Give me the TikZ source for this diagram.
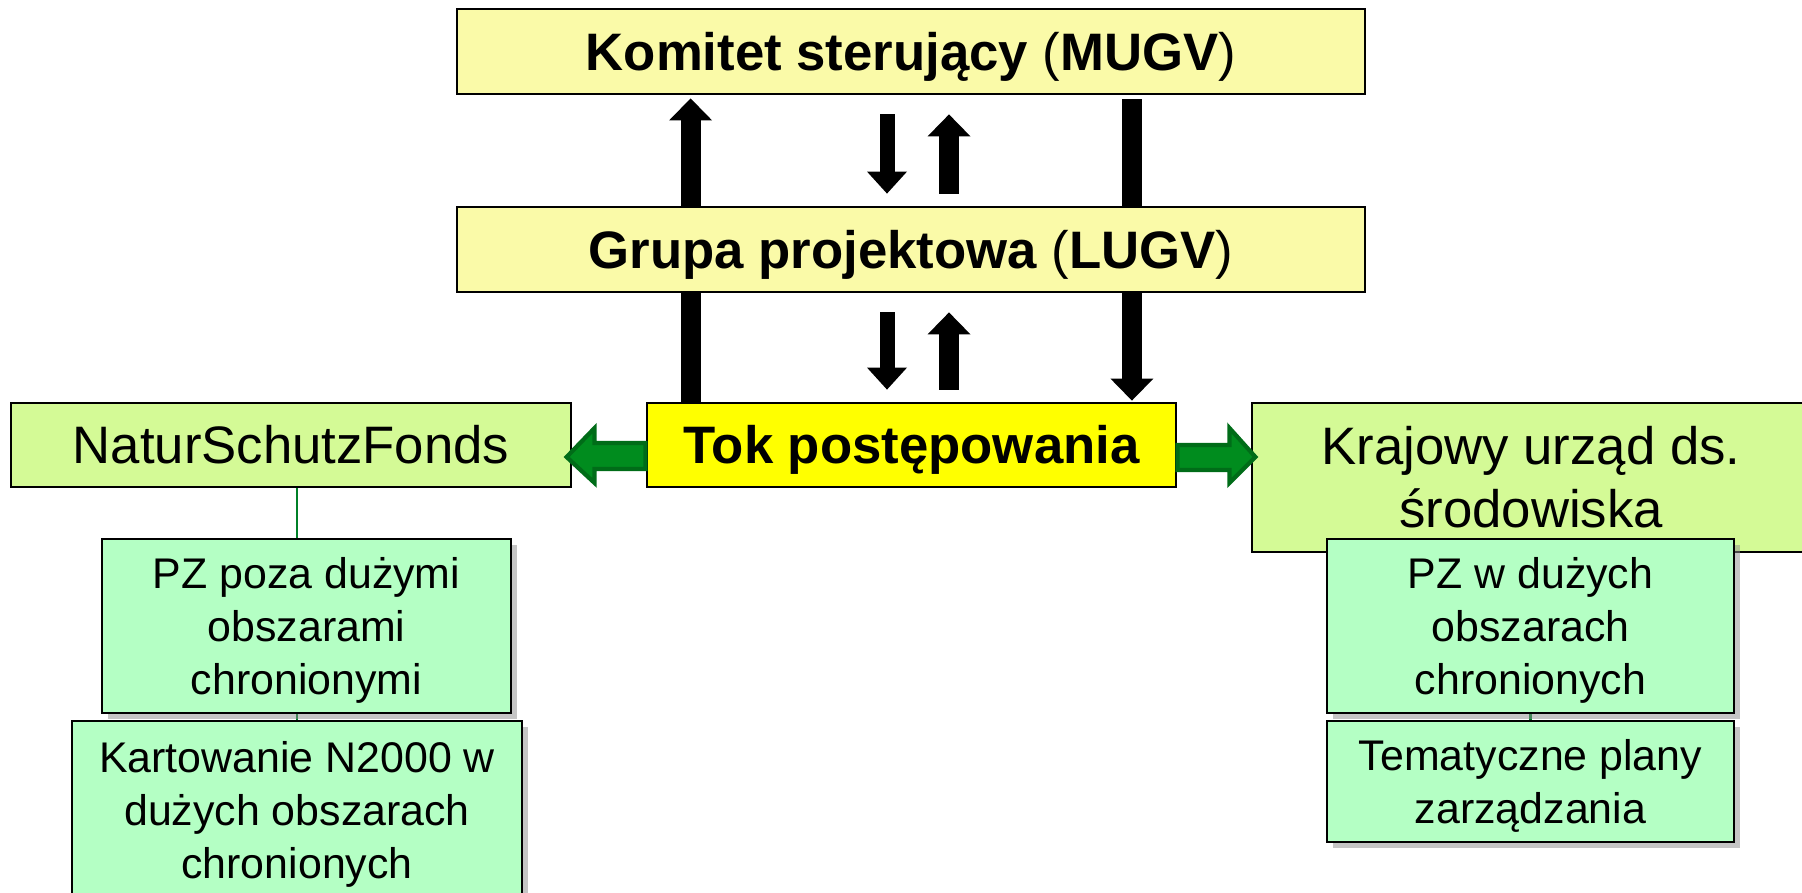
\documentclass[tikz,border=0pt]{standalone}
\usepackage{fontspec}
\setmainfont{Liberation Sans}
\usepackage{tikz}
\usetikzlibrary{calc,positioning,arrows.meta,shadows}

\definecolor{topyellow}{RGB}{250,250,168}
\definecolor{tokyellow}{RGB}{255,255,0}
\definecolor{sidegreen}{RGB}{212,250,150}
\definecolor{subgreen}{RGB}{180,255,196}
\definecolor{arrowgreen}{RGB}{0,140,30}
\definecolor{arrowdark}{RGB}{0,108,24}
\definecolor{linkgreen}{RGB}{0,128,40}

\tikzset{
box/.style={draw=black,line width=0.8pt,inner sep=0pt,align=center,text depth=0pt,text height=10.7pt,font=\fontsize{15}{18}\selectfont},
topbox/.style={box,fill=topyellow,minimum width=9.08cm,minimum height=0.85cm,font=\fontsize{15}{18}\selectfont\bfseries},
sidebox/.style={box,fill=sidegreen},
subbox/.style={box,fill=subgreen,font=\fontsize{12.2}{15}\selectfont,drop shadow={shadow xshift=0.06cm,shadow yshift=-0.06cm,fill=black!45,opacity=0.5}},
bigarrow/.style={line width=0.2cm,-{Triangle[width=0.43cm,length=0.22cm,line width=0pt]}},
downarrow/.style={line width=0.15cm,-{Triangle[width=0.40cm,length=0.22cm,line width=0pt]}},
greenarr/.style={fill=arrowgreen,draw=arrowdark,line width=1.2pt,line join=miter},
link/.style={draw=linkgreen,line width=0.8pt}
}

\begin{document}
\begin{tikzpicture}
\useasboundingbox (0,0) rectangle (18.02,-8.92);

\node[topbox] (komitet) at (9.11,-0.515) {Komitet sterujący {\mdseries(}MUGV{\mdseries)}};
\node[box,fill=tokyellow,minimum width=5.29cm,minimum height=0.84cm,font=\fontsize{15}{18}\selectfont\bfseries] (tok) at (9.115,-4.45) {Tok postępowania};

\draw[bigarrow] ($(tok.north west)+(0.45,0)$) -- ($(tok.north west |- komitet.south)+(0.45,-0.03)$);
\draw[bigarrow] ($(tok.north east |- komitet.south)+(-0.455,-0.04)$) -- ($(tok.north east)+(-0.455,0.01)$);

\node[topbox] (grupa) at (9.11,-2.495) {Grupa projektowa {\mdseries(}LUGV{\mdseries)}};

\foreach \a/\b in {komitet/grupa,grupa/tok}{
\draw[downarrow] ($(\a.south)+(-0.24,-0.19)$) -- ($(\a.south |- \b.north)+(-0.24,0.12)$);
\draw[bigarrow] ($(\a.south |- \b.north)+(0.38,0.12)$) -- ($(\a.south)+(0.38,-0.19)$);
}

\node[sidebox,minimum width=5.60cm,minimum height=0.84cm] (natur) at (2.91,-4.45) {NaturSchutzFonds};
\node[sidebox,minimum width=5.58cm,minimum height=1.49cm,text height=28.7pt] (krajowy) at (15.31,-4.775) {Krajowy urząd ds.\\środowiska};

\draw[greenarr] (tok.west) ++(0,0.02) -- ++(-0.51,0) -- ++(0,0.15) -- ++(-0.28,-0.29) -- ++(0.28,-0.26) -- ++(0,0.14) -- ++(0.51,0) -- cycle;
\draw[greenarr] (tok.east) -- ++(0.52,0) -- ++(0,0.17) -- ++(0.26,-0.29) -- ++(-0.26,-0.26) -- ++(0,0.13) -- ++(-0.52,0) -- cycle;

\node[subbox,minimum width=4.50cm,minimum height=1.78cm,text height=38.7pt] (kart) at (2.97,-8.10) {Kartowanie N2000 w\\dużych obszarach\\chronionych};
\node[subbox,minimum width=4.07cm,minimum height=1.21cm,text height=23.7pt] (temat) at (15.305,-7.815) {Tematyczne plany\\zarządzania};

\draw[link] (natur.south -| kart.north) -- (kart.north);
\draw[link] (krajowy.south -| temat.north) -- (temat.north);

\node[subbox,minimum width=4.09cm,minimum height=1.74cm,text height=38.7pt] (pzpoza) at (3.065,-6.26) {PZ poza dużymi\\obszarami\\chronionymi};
\node[subbox,minimum width=4.07cm,minimum height=1.74cm,text height=38.7pt] (pzw) at (15.305,-6.26) {PZ w dużych\\obszarach\\chronionych};
\end{tikzpicture}
\end{document}
